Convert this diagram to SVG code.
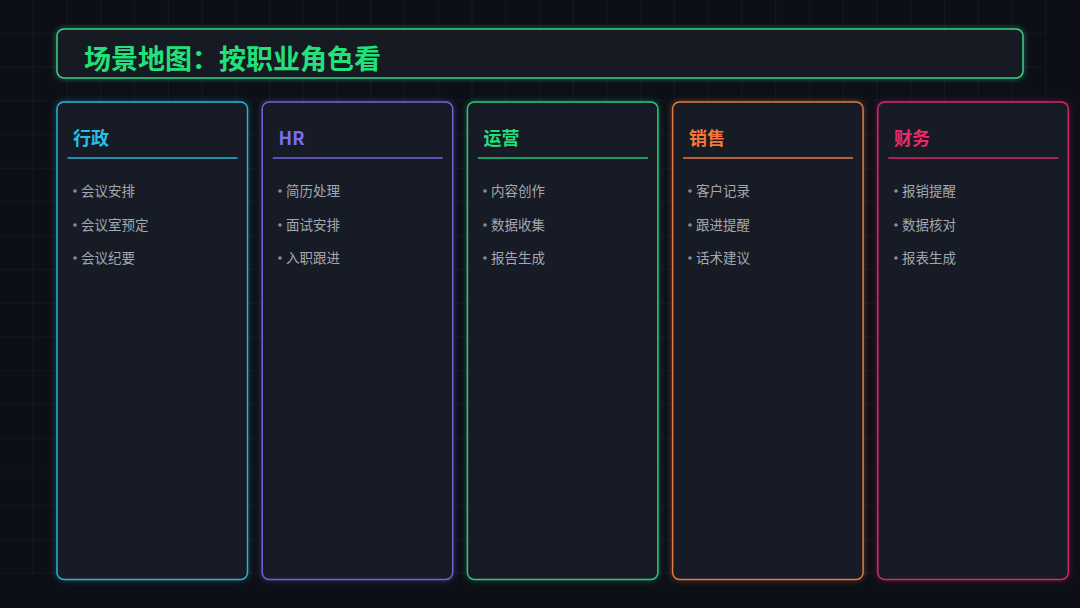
<svg xmlns="http://www.w3.org/2000/svg" width="1080" height="608" viewBox="0 0 1080 608">
<defs>
<pattern id="grid" width="33.75" height="33.75" patternUnits="userSpaceOnUse">
<path d="M33.75 0 V33.75 M0 33.75 H33.75" fill="none" stroke="#1c202a" stroke-width="1"/>
</pattern>
<filter id="glow" x="-10%" y="-10%" width="120%" height="120%">
<feGaussianBlur stdDeviation="2.5"/>
</filter>
</defs>
<style>
.card{fill:#171b25;stroke-width:1.5}
.hd{font-family:"Noto Sans CJK SC","Noto Sans",sans-serif;font-size:18px;font-weight:700}
.it{font-family:"Noto Sans CJK SC","Noto Sans",sans-serif;font-size:13.5px;fill:#a3a7b0}
.dot{fill:#8a8e98}
.title{font-family:"Noto Sans CJK SC",sans-serif;font-size:27px;font-weight:700;fill:#22e07a}
</style>
<rect width="1080" height="608" fill="#0d0f17"/>
<rect width="1080" height="608" fill="url(#grid)" transform="translate(-33.75 -33.75)"/>

<g id="title">
<rect x="57" y="29" width="966" height="49" rx="7" fill="none" stroke="#2ed88a" stroke-opacity="0.35" stroke-width="4" filter="url(#glow)"/>
<rect x="57" y="29" width="966" height="49" rx="7" fill="#161a23" stroke="#3fcf8a" stroke-width="1.5"/>
<text class="title" x="84" y="69">场景地图：按职业角色看</text>
</g>

<g id="card-admin">
<rect x="57" y="102" width="190.5" height="477.5" rx="7" fill="none" stroke="#22b8d8" stroke-opacity="0.3" stroke-width="4" filter="url(#glow)"/>
<rect class="card" x="57" y="102" width="190.5" height="477.5" rx="7" stroke="#2bb4cf"/>
<text class="hd" x="73" y="145" fill="#27c0e6">行政</text>
<line x1="67.5" y1="158" x2="237.5" y2="158" stroke="#27b8d8" stroke-width="1.5"/>
<circle class="dot" cx="75" cy="191" r="1.8"/><text class="it" x="81" y="196">会议安排</text>
<circle class="dot" cx="75" cy="225" r="1.8"/><text class="it" x="81" y="230">会议室预定</text>
<circle class="dot" cx="75" cy="258" r="1.8"/><text class="it" x="81" y="263">会议纪要</text>
</g>

<g id="card-hr">
<rect x="262.2" y="102" width="190.5" height="477.5" rx="7" fill="none" stroke="#7068e0" stroke-opacity="0.3" stroke-width="4" filter="url(#glow)"/>
<rect class="card" x="262.2" y="102" width="190.5" height="477.5" rx="7" stroke="#6f66d6"/>
<text class="hd" x="278.5" y="145" fill="#7a6ff0">HR</text>
<line x1="272.7" y1="158" x2="442.7" y2="158" stroke="#7068e0" stroke-width="1.5"/>
<circle class="dot" cx="280" cy="191" r="1.8"/><text class="it" x="286" y="196">简历处理</text>
<circle class="dot" cx="280" cy="225" r="1.8"/><text class="it" x="286" y="230">面试安排</text>
<circle class="dot" cx="280" cy="258" r="1.8"/><text class="it" x="286" y="263">入职跟进</text>
</g>

<g id="card-ops">
<rect x="467.4" y="102" width="190.5" height="477.5" rx="7" fill="none" stroke="#22d07a" stroke-opacity="0.3" stroke-width="4" filter="url(#glow)"/>
<rect class="card" x="467.4" y="102" width="190.5" height="477.5" rx="7" stroke="#2ec97c"/>
<text class="hd" x="483.5" y="145" fill="#22dd7a">运营</text>
<line x1="477.9" y1="158" x2="647.9" y2="158" stroke="#22c878" stroke-width="1.5"/>
<circle class="dot" cx="485" cy="191" r="1.8"/><text class="it" x="491" y="196">内容创作</text>
<circle class="dot" cx="485" cy="225" r="1.8"/><text class="it" x="491" y="230">数据收集</text>
<circle class="dot" cx="485" cy="258" r="1.8"/><text class="it" x="491" y="263">报告生成</text>
</g>

<g id="card-sales">
<rect x="672.6" y="102" width="190.5" height="477.5" rx="7" fill="none" stroke="#f07a3a" stroke-opacity="0.3" stroke-width="4" filter="url(#glow)"/>
<rect class="card" x="672.6" y="102" width="190.5" height="477.5" rx="7" stroke="#e27a44"/>
<text class="hd" x="689" y="145" fill="#f5773a">销售</text>
<line x1="683.1" y1="158" x2="853.1" y2="158" stroke="#e77c45" stroke-width="1.5"/>
<circle class="dot" cx="690" cy="191" r="1.8"/><text class="it" x="696" y="196">客户记录</text>
<circle class="dot" cx="690" cy="225" r="1.8"/><text class="it" x="696" y="230">跟进提醒</text>
<circle class="dot" cx="690" cy="258" r="1.8"/><text class="it" x="696" y="263">话术建议</text>
</g>

<g id="card-finance">
<rect x="877.8" y="102" width="190.5" height="477.5" rx="7" fill="none" stroke="#e8206a" stroke-opacity="0.3" stroke-width="4" filter="url(#glow)"/>
<rect class="card" x="877.8" y="102" width="190.5" height="477.5" rx="7" stroke="#d4276a"/>
<text class="hd" x="894" y="145" fill="#ec2a6c">财务</text>
<line x1="888.3" y1="158" x2="1058.3" y2="158" stroke="#d9286b" stroke-width="1.5"/>
<circle class="dot" cx="896" cy="191" r="1.8"/><text class="it" x="902" y="196">报销提醒</text>
<circle class="dot" cx="896" cy="225" r="1.8"/><text class="it" x="902" y="230">数据核对</text>
<circle class="dot" cx="896" cy="258" r="1.8"/><text class="it" x="902" y="263">报表生成</text>
</g>
<g id="connectors"/>
</svg>
